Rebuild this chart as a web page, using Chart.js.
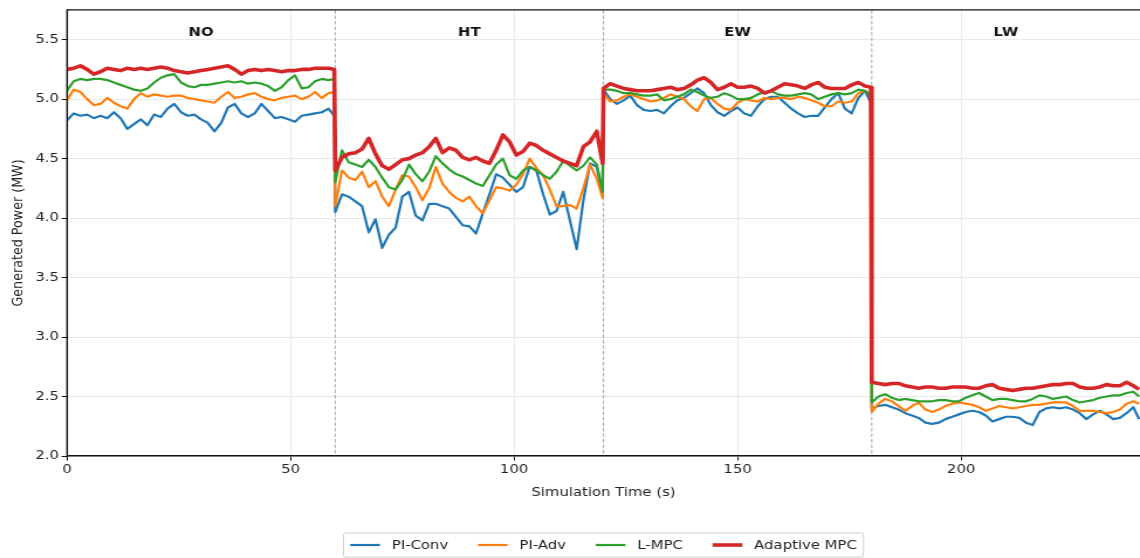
<!DOCTYPE html>
<html>
<head>
<meta charset="utf-8">
<script src="https://cdn.jsdelivr.net/npm/chart.js@4.4.1/dist/chart.umd.min.js"></script>
<style>
html,body{margin:0;padding:0;background:#fff;overflow:hidden}
#wrap{width:1140px;height:558px;position:relative;overflow:hidden}
canvas{display:block}
</style>
</head>
<body>
<div id="wrap"><canvas id="c" width="974" height="558" style="width:1140px;height:558px"></canvas></div>
<script>
// ---------------- data ----------------
const seriesNames = ['PI-Conv', 'PI-Adv', 'L-MPC', 'Adaptive MPC'];
const phaseNames = ['NO', 'HT', 'EW', 'LW'];
const phaseEdges = [0, 60, 120, 180, 240];
const yTickValues = [2.0, 2.5, 3.0, 3.5, 4.0, 4.5, 5.0, 5.5];
const xTickValues = [0, 50, 100, 150, 200];

// sample times: every 1.5 s inside each 60 s phase, plus one sample just before the switch
const time = [];
for (let s = 0; s < 4; s++) {
  for (let i = 0; i < 40; i++) time.push(60 * s + 1.5 * i);
  time.push(60 * s + 59.8);
}

const piConv = [
  4.82,4.88,4.86,4.87,4.84,4.86,4.84,4.89,4.84,4.75, 4.79,4.83,4.78,4.87,4.85,4.92,4.96,4.89,4.86,4.87,
  4.83,4.80,4.73,4.80,4.93,4.96,4.88,4.85,4.88,4.96, 4.90,4.84,4.85,4.83,4.81,4.86,4.87,4.88,4.89,4.92, 4.86,
  4.05,4.20,4.18,4.14,4.10,3.88,3.99,3.75,3.86,3.92, 4.18,4.22,4.02,3.98,4.12,4.12,4.10,4.08,4.01,3.94,
  3.93,3.87,4.04,4.20,4.37,4.34,4.28,4.22,4.26,4.43, 4.40,4.20,4.03,4.06,4.22,3.98,3.74,4.15,4.46,4.43, 4.19,
  5.08,5.00,4.96,4.99,5.03,4.95,4.91,4.90,4.91,4.88, 4.94,4.99,5.01,5.05,5.09,5.05,4.95,4.89,4.86,4.90,
  4.93,4.88,4.86,4.94,5.00,5.02,5.02,4.97,4.92,4.88, 4.85,4.86,4.86,4.93,5.00,5.05,4.92,4.88,5.01,5.07, 4.97,
  2.40,2.42,2.43,2.41,2.39,2.36,2.34,2.32,2.28,2.27, 2.28,2.31,2.33,2.35,2.37,2.38,2.37,2.34,2.29,2.31,
  2.33,2.33,2.32,2.28,2.26,2.37,2.40,2.41,2.40,2.41, 2.39,2.36,2.31,2.35,2.38,2.35,2.31,2.32,2.36,2.41, 2.31
];
const piAdv = [
  4.99,5.08,5.06,5.00,4.95,4.96,5.01,4.97,4.94,4.92, 5.00,5.05,5.02,5.04,5.03,5.02,5.03,5.03,5.01,5.00,
  4.99,4.98,4.97,5.02,5.06,5.01,5.02,5.04,5.05,5.02, 5.00,4.99,5.01,5.02,5.03,5.00,5.02,5.06,5.01,5.05, 5.06,
  4.10,4.40,4.34,4.32,4.39,4.26,4.31,4.18,4.10,4.24, 4.36,4.35,4.26,4.15,4.25,4.43,4.29,4.22,4.17,4.14,
  4.18,4.10,4.04,4.15,4.26,4.25,4.23,4.28,4.37,4.50, 4.42,4.36,4.24,4.10,4.10,4.11,4.08,4.25,4.45,4.33, 4.17,
  5.05,4.98,4.99,5.02,5.04,5.02,5.00,4.98,4.99,5.01, 5.04,5.02,5.00,4.94,4.90,5.00,5.01,4.96,4.92,4.91,
  4.97,5.00,4.99,4.98,5.01,5.00,5.01,5.01,5.00,5.02, 5.01,4.99,4.97,4.94,4.94,4.98,4.97,4.98,5.05,5.07, 5.04,
  2.37,2.44,2.48,2.46,2.42,2.38,2.42,2.45,2.39,2.37, 2.39,2.42,2.44,2.45,2.44,2.43,2.41,2.38,2.40,2.42,
  2.41,2.40,2.41,2.42,2.43,2.43,2.44,2.45,2.45,2.45, 2.42,2.38,2.38,2.38,2.37,2.36,2.37,2.39,2.44,2.46, 2.44
];
const lMpc = [
  5.07,5.15,5.17,5.16,5.17,5.17,5.16,5.14,5.12,5.10, 5.08,5.07,5.09,5.14,5.18,5.20,5.21,5.14,5.11,5.10,
  5.12,5.12,5.13,5.14,5.15,5.14,5.15,5.13,5.14,5.13, 5.11,5.07,5.10,5.16,5.20,5.09,5.10,5.15,5.17,5.16, 5.17,
  4.30,4.57,4.47,4.45,4.43,4.49,4.43,4.34,4.26,4.24, 4.32,4.45,4.37,4.31,4.39,4.52,4.46,4.41,4.37,4.35,
  4.32,4.29,4.27,4.36,4.45,4.50,4.36,4.33,4.40,4.43, 4.40,4.36,4.33,4.39,4.48,4.44,4.40,4.44,4.51,4.45, 4.22,
  5.08,5.08,5.07,5.05,5.05,5.04,5.03,5.03,5.04,4.99, 5.00,5.02,5.04,5.08,5.06,5.03,5.01,5.02,5.05,5.03,
  5.00,5.00,5.01,5.04,5.06,5.07,5.04,5.03,5.03,5.04, 5.05,5.04,5.00,5.02,5.04,5.05,5.04,5.05,5.08,5.07, 5.03,
  2.45,2.50,2.52,2.49,2.47,2.48,2.47,2.46,2.46,2.46, 2.47,2.47,2.46,2.46,2.49,2.51,2.53,2.50,2.47,2.48,
  2.48,2.47,2.46,2.46,2.48,2.51,2.50,2.48,2.49,2.50, 2.47,2.45,2.46,2.47,2.49,2.50,2.51,2.51,2.53,2.54, 2.50
];
const adaptiveMpc = [
  5.25,5.26,5.28,5.25,5.21,5.23,5.26,5.25,5.24,5.26, 5.25,5.26,5.25,5.26,5.27,5.26,5.24,5.23,5.22,5.23,
  5.24,5.25,5.26,5.27,5.28,5.25,5.21,5.24,5.25,5.24, 5.25,5.24,5.23,5.24,5.24,5.25,5.25,5.26,5.26,5.26, 5.25,
  4.40,4.51,4.54,4.55,4.58,4.67,4.54,4.44,4.41,4.45, 4.49,4.50,4.53,4.55,4.60,4.67,4.55,4.59,4.57,4.51,
  4.49,4.51,4.48,4.46,4.57,4.70,4.64,4.53,4.56,4.63, 4.61,4.57,4.54,4.51,4.48,4.46,4.44,4.60,4.64,4.73, 4.46,
  5.09,5.13,5.11,5.09,5.08,5.07,5.07,5.07,5.08,5.09, 5.10,5.08,5.09,5.12,5.16,5.18,5.14,5.08,5.10,5.13,
  5.10,5.10,5.11,5.09,5.05,5.07,5.10,5.13,5.12,5.11, 5.09,5.12,5.14,5.10,5.09,5.09,5.09,5.12,5.14,5.11, 5.10,
  2.62,2.61,2.60,2.61,2.61,2.59,2.58,2.57,2.58,2.58, 2.57,2.57,2.58,2.58,2.58,2.57,2.57,2.59,2.60,2.57,
  2.56,2.55,2.56,2.57,2.57,2.58,2.59,2.60,2.60,2.61, 2.61,2.58,2.57,2.57,2.58,2.60,2.59,2.59,2.62,2.59, 2.56
];
const seriesValues = [piConv, piAdv, lMpc, adaptiveMpc];

// ---------------- styles ----------------
const FONT = "'DejaVu Sans', sans-serif";
const FS = 12.7;
const colors = ['#1f77b4', '#ff7f0e', '#2ca02c', '#d62728'];
const lineWidths = [2.2, 2.2, 2.2, 3.6];
const drawOrder = [4, 3, 2, 1];

Chart.defaults.font.family = FONT;
Chart.defaults.font.size = FS;
Chart.defaults.color = '#222';

const datasets = seriesNames.map((name, i) => ({
  label: name,
  data: time.map((t, k) => ({x: t, y: seriesValues[i][k]})),
  borderColor: colors[i],
  backgroundColor: colors[i],
  borderWidth: lineWidths[i],
  pointRadius: 0,
  tension: 0,
  fill: false,
  order: drawOrder[i],
  borderJoinStyle: 'round'
}));

const overlay = {
  id: 'overlay',
  beforeDatasetsDraw(chart) {
    const {ctx, chartArea: a, scales: {x}} = chart;
    ctx.save();
    ctx.strokeStyle = 'rgba(31,119,180,0.55)';
    ctx.lineWidth = 1;
    ctx.setLineDash([3.7, 1.8]);
    phaseEdges.slice(1, -1).forEach(b => {
      const px = x.getPixelForValue(b);
      ctx.beginPath(); ctx.moveTo(px, a.top); ctx.lineTo(px, a.bottom); ctx.stroke();
    });
    ctx.restore();
  },
  afterDatasetsDraw(chart) {
    const {ctx, chartArea: a, scales: {x}} = chart;
    ctx.save();
    // spines
    ctx.strokeStyle = '#111';
    ctx.lineWidth = 1.1;
    ctx.beginPath();
    ctx.moveTo(a.left, a.top); ctx.lineTo(a.right + 5, a.top);
    ctx.moveTo(a.left, a.top); ctx.lineTo(a.left, a.bottom);
    ctx.moveTo(a.left, a.bottom); ctx.lineTo(a.right + 5, a.bottom);
    ctx.stroke();
    // phase labels
    ctx.fillStyle = '#111';
    ctx.font = `bold ${FS}px ${FONT}`;
    ctx.textAlign = 'center';
    ctx.textBaseline = 'middle';
    phaseNames.forEach((n, i) => {
      const cx = x.getPixelForValue((phaseEdges[i] + phaseEdges[i + 1]) / 2);
      ctx.fillText(n, cx, a.top + 23);
    });
    // legend (matplotlib style, below the axes)
    ctx.font = `${FS}px ${FONT}`;
    const handle = 2 * FS, hpad = 0.8 * FS, colsp = 2 * FS, bpad = 0.45 * FS;
    const widths = seriesNames.map(n => ctx.measureText(n).width);
    const total = widths.reduce((s, w) => s + handle + hpad + w, 0) + colsp * (seriesNames.length - 1) + 2 * bpad;
    const left = (a.left + a.right) / 2 - total / 2;
    const top = 533, h = 24;
    ctx.fillStyle = 'rgba(255,255,255,0.9)';
    ctx.strokeStyle = '#cfcfcf';
    ctx.lineWidth = 1;
    ctx.beginPath();
    ctx.roundRect(left, top, total, h, 2);
    ctx.fill(); ctx.stroke();
    let cx = left + bpad;
    const cy = top + h / 2;
    ctx.textAlign = 'left';
    seriesNames.forEach((n, i) => {
      ctx.strokeStyle = colors[i];
      ctx.lineWidth = lineWidths[i];
      ctx.beginPath(); ctx.moveTo(cx, cy); ctx.lineTo(cx + handle, cy); ctx.stroke();
      cx += handle + hpad;
      ctx.fillStyle = '#222';
      ctx.fillText(n, cx, cy + 0.5);
      cx += widths[i] + colsp;
    });
    ctx.restore();
  }
};

new Chart(document.getElementById('c'), {
  type: 'line',
  data: {datasets},
  options: {
    responsive: false,
    animation: false,
    events: [],
    layout: {padding: {top: 8, left: 0, right: -2.6, bottom: 0}},
    plugins: {legend: {display: false}, tooltip: {enabled: false}},
    scales: {
      x: {
        type: 'linear', min: 0, max: 240,
        afterBuildTicks: s => { s.ticks = xTickValues.map(v => ({value: v})); },
        ticks: {includeBounds: false, padding: 1.5, maxRotation: 0, autoSkip: false, color: '#222',
                callback: v => String(v)},
        grid: {color: '#e6e6e6', lineWidth: 0.9, tickLength: 4.5, tickColor: '#111', tickWidth: 1},
        border: {display: true, color: '#111', width: 1.1},
        title: {display: true, text: 'Simulation Time (s)', color: '#222', font: {size: FS},
                padding: {top: 0, bottom: 57.4}},
        afterFit: s => { s.height = 102; }
      },
      y: {
        type: 'linear', min: 2.0, max: 5.75,
        afterBuildTicks: s => { s.ticks = yTickValues.map(v => ({value: v})); },
        ticks: {includeBounds: false, padding: 2.3, color: '#222', callback: v => Number(v).toFixed(1)},
        grid: {color: '#e6e6e6', lineWidth: 0.9, tickLength: 4.5, tickColor: '#111', tickWidth: 1},
        border: {display: true, color: '#111', width: 1.1},
        title: {display: true, text: 'Generated Power (MW)', color: '#222', font: {size: FS},
                padding: {top: 7.8, bottom: 0}},
        afterFit: s => { s.width = 57.2; }
      }
    }
  },
  plugins: [overlay]
});
</script>
</body>
</html>
